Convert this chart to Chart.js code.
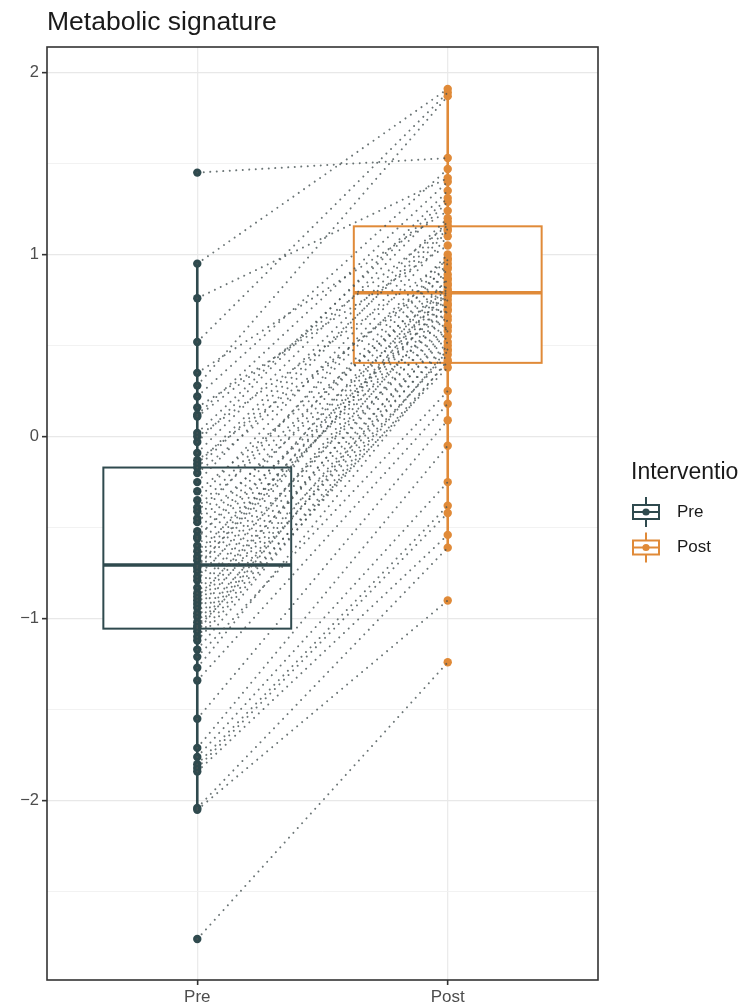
<!DOCTYPE html>
<html><head><meta charset="utf-8">
<script src="https://cdn.jsdelivr.net/npm/chart.js@4.4.1/dist/chart.umd.min.js"></script>
<style>html,body{margin:0;padding:0;background:#fff;} canvas{display:block;}</style>
</head><body>
<canvas id="c" width="738" height="1008"></canvas>
<script>
const categories = ['Pre', 'Post'];
const preValues = [1.45, 0.95, 0.76, 0.52, 0.35, 0.28, 0.22, 0.16, 0.12, 0.11, 0.02, 0.00, -0.03, -0.09, -0.13, -0.15,
  -0.17, -0.20, -0.25, -0.30, -0.35, -0.39, -0.41, -0.45, -0.47, -0.52, -0.55, -0.56, -0.60, -0.63, -0.66, -0.68,
  -0.71, -0.72, -0.74, -0.77, -0.79, -0.83, -0.86, -0.88, -0.90, -0.92, -0.94, -0.97, -0.99, -1.02, -1.04, -1.05,
  -1.07, -1.10, -1.12, -1.17, -1.21, -1.27, -1.34, -1.55, -1.71, -1.76, -1.80, -1.82, -1.84, -2.04, -2.05, -2.76];
const postValues = [1.53, 1.91, 1.42, 1.89, 1.24, 1.87, 1.47, 1.05, 1.40, 1.16, 1.31, 0.97, 1.35, 1.29, 0.89, 1.20,
  1.14, 0.93, 1.18, 0.81, 1.13, 1.00, 0.86, 1.10, 0.78, 0.98, 0.72, 0.95, 0.84, 0.66, 0.92, 0.80,
  0.75, 0.87, 0.79, 0.61, 0.83, 0.70, 0.77, 0.55, 0.73, 0.64, 0.50, 0.69, 0.45, 0.60, 0.52, 0.38,
  0.58, 0.47, 0.41, 0.48, 0.25, 0.42, 0.18, 0.09, -0.05, -0.25, -0.38, -0.42, -0.54, -0.61, -0.90, -1.24];
// box statistics, one entry per category
const boxQ1 = [-1.055, 0.405];
const boxMedian = [-0.705, 0.79];
const boxQ3 = [-0.17, 1.155];
const whiskerLow = [-2.05, -0.61];
const whiskerHigh = [0.95, 1.91];
const yTicks = [-2.5, -2, -1.5, -1, -0.5, 0, 0.5, 1, 1.5, 2];
const yTickLabels = ['', '\u22122', '', '\u22121', '', '0', '', '1', '', '2'];
const groupColors = ['#2f4a4e', '#e08a38'];
const chartTitle = 'Metabolic signature';
const legendTitle = 'Intervention';

const FONT = '"Liberation Sans", Arial, Helvetica, sans-serif';
Chart.defaults.font.family = FONT;

const pairDatasets = preValues.map((p, i) => ({
  type: 'line',
  data: [{x: 1, y: p}, {x: 2, y: postValues[i]}],
  borderColor: 'rgba(70,82,84,0.8)',
  borderWidth: 2,
  borderDash: [0.01, 6.5],
  borderCapStyle: 'round',
  pointRadius: 0,
  fill: false,
  tension: 0,
  order: 0
}));
const pointDatasets = [preValues, postValues].map((vals, g) => ({
  type: 'scatter',
  data: vals.map(v => ({x: g + 1, y: v})),
  backgroundColor: groupColors[g],
  borderColor: groupColors[g],
  borderWidth: 0,
  pointRadius: 4.2,
  order: 1
}));

const boxPlugin = {
  id: 'boxes',
  beforeDatasetsDraw(chart) {
    const ctx = chart.ctx, xs = chart.scales.x, ys = chart.scales.y;
    const half = (xs.getPixelForValue(0.375) - xs.getPixelForValue(0));
    categories.forEach((c, g) => {
      const xc = xs.getPixelForValue(g + 1);
      ctx.save();
      ctx.strokeStyle = groupColors[g];
      ctx.lineWidth = 2.6;
      ctx.beginPath();
      ctx.moveTo(xc, ys.getPixelForValue(whiskerLow[g]));
      ctx.lineTo(xc, ys.getPixelForValue(whiskerHigh[g]));
      ctx.stroke();
      const yTop = ys.getPixelForValue(boxQ3[g]), yBot = ys.getPixelForValue(boxQ1[g]);
      ctx.fillStyle = '#ffffff';
      ctx.fillRect(xc - half, yTop, 2 * half, yBot - yTop);
      ctx.lineWidth = 2;
      ctx.strokeRect(xc - half, yTop, 2 * half, yBot - yTop);
      ctx.lineWidth = 3.6;
      const ym = ys.getPixelForValue(boxMedian[g]);
      ctx.beginPath();
      ctx.moveTo(xc - half, ym);
      ctx.lineTo(xc + half, ym);
      ctx.stroke();
      ctx.restore();
    });
  }
};

const decorPlugin = {
  id: 'decor',
  afterDraw(chart) {
    const ctx = chart.ctx, a = chart.chartArea;
    ctx.save();
    // panel border
    ctx.strokeStyle = '#333333';
    ctx.lineWidth = 1.6;
    ctx.strokeRect(a.left, a.top, a.right - a.left, a.bottom - a.top);
    // title
    ctx.fillStyle = '#1a1a1a';
    ctx.font = '26.5px ' + FONT;
    ctx.textBaseline = 'alphabetic';
    ctx.textAlign = 'left';
    ctx.fillText(chartTitle, a.left, 30);
    // legend
    ctx.font = '23px ' + FONT;
    ctx.textBaseline = 'middle';
    ctx.fillText(legendTitle, 631, 473);
    categories.forEach((c, g) => {
      const y = 512 + g * 35.5, xc = 646;
      ctx.strokeStyle = groupColors[g];
      ctx.fillStyle = groupColors[g];
      ctx.lineWidth = 2;
      ctx.beginPath();
      ctx.moveTo(xc, y - 15); ctx.lineTo(xc, y - 7);
      ctx.moveTo(xc, y + 7); ctx.lineTo(xc, y + 15);
      ctx.stroke();
      ctx.strokeRect(xc - 13, y - 7, 26, 14);
      ctx.beginPath();
      ctx.moveTo(xc - 13, y); ctx.lineTo(xc + 13, y);
      ctx.stroke();
      ctx.beginPath();
      ctx.arc(xc, y, 3.6, 0, Math.PI * 2);
      ctx.fill();
      ctx.fillStyle = '#1a1a1a';
      ctx.font = '17px ' + FONT;
      ctx.fillText(c, 677, y);
    });
    ctx.restore();
  }
};

new Chart(document.getElementById('c'), {
  type: 'scatter',
  data: {datasets: [...pairDatasets, ...pointDatasets]},
  options: {
    responsive: false,
    animation: false,
    events: [],
    layout: {padding: {left: 0, top: 47, right: 140, bottom: 0}},
    plugins: {legend: {display: false}, tooltip: {enabled: false}, title: {display: false}},
    scales: {
      x: {
        type: 'linear', min: 0.4, max: 2.6,
        afterBuildTicks: s => { s.ticks = categories.map((c, i) => ({value: i + 1})); },
        afterFit: s => { s.height = 28; },
        ticks: {autoSkip: false, maxRotation: 0, padding: 2, color: '#4d4d4d', font: {size: 17},
          callback: (v, i) => categories[i]},
        grid: {color: '#ebebeb', lineWidth: 1.3, drawTicks: true, tickLength: 5, tickColor: '#333333', tickWidth: 1.6},
        border: {display: false}
      },
      y: {
        type: 'linear', min: -2.985, max: 2.14,
        afterBuildTicks: s => { s.ticks = yTicks.map(v => ({value: v})); },
        afterFit: s => { s.width = 47; },
        ticks: {autoSkip: false, padding: 3, color: '#4d4d4d', font: {size: 16.5},
          callback: (v, i) => yTickLabels[i]},
        grid: {
          color: c => (c.tick && yTickLabels[c.index] !== '') ? '#e8e8e8' : '#f1f1f1',
          lineWidth: c => (c.tick && yTickLabels[c.index] !== '') ? 1.3 : 0.9,
          drawTicks: true, tickLength: 5,
          tickColor: c => (c.tick && yTickLabels[c.index] !== '') ? '#333333' : 'rgba(0,0,0,0)',
          tickWidth: 1.6
        },
        border: {display: false}
      }
    }
  },
  plugins: [boxPlugin, decorPlugin]
});
</script>
</body></html>
